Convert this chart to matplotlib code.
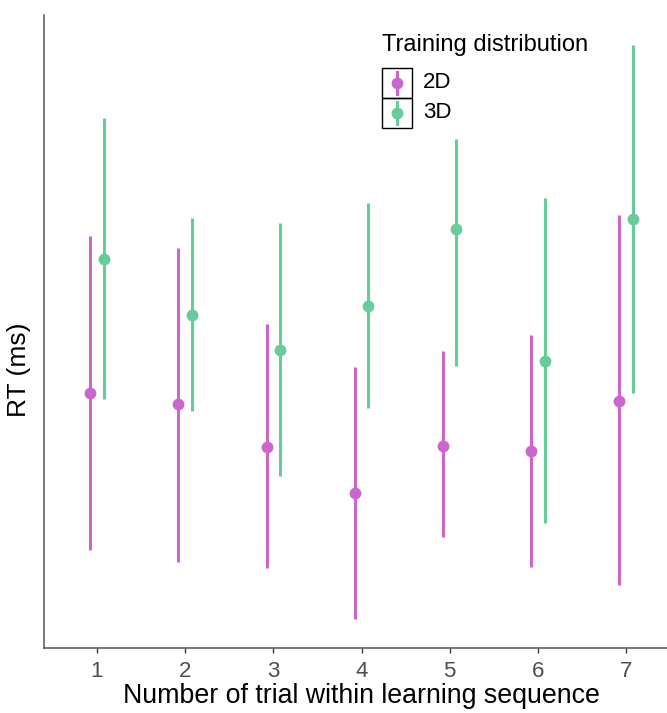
import matplotlib
matplotlib.use("Agg")
import matplotlib.pyplot as plt
from matplotlib.patches import Rectangle
from matplotlib.lines import Line2D

plt.rcParams['font.family'] = ['Liberation Sans', 'DejaVu Sans']

# data (arbitrary RT units, no y scale shown)
trials = [1, 2, 3, 4, 5, 6, 7]
groups = ["2D", "3D"]
colors = {"2D": "#CC66CC", "3D": "#66CC99"}

mean_2d = [255, 244, 201, 155, 202, 197, 247]
low_2d = [98, 86, 80, 29, 111, 81, 63]
high_2d = [412, 400, 324, 281, 297, 313, 433]

mean_3d = [389, 333, 298, 342, 419, 287, 429]
low_3d = [249, 237, 172, 240, 282, 125, 255]
high_3d = [530, 430, 425, 445, 509, 450, 603]

series = {
    "2D": (mean_2d, low_2d, high_2d),
    "3D": (mean_3d, low_3d, high_3d),
}
dodge = {"2D": -0.075, "3D": 0.075}

W, H = 667, 713
fig = plt.figure(figsize=(W / 100, H / 100), dpi=100)

# panel runs past the right edge (original was cropped)
left, right, top, bottom = 44, 679, 15, 648
ax = fig.add_axes([left / W, 1 - bottom / H, (right - left) / W, (bottom - top) / H])

for g in groups:
    m, lo, hi = series[g]
    xs = [t + dodge[g] for t in trials]
    ax.vlines(xs, lo, hi, color=colors[g], lw=2.2)
    ax.plot(xs, m, 'o', color=colors[g], ms=7.5, mec=colors[g])

ax.set_xlim(0.4, 7.6)
ax.set_ylim(0, 633)
ax.set_xticks(trials)
ax.set_xticklabels([str(t) for t in trials])
ax.set_yticks([])

for s in ["top", "right"]:
    ax.spines[s].set_visible(False)
for s in ["left", "bottom"]:
    ax.spines[s].set_color("#555555")
    ax.spines[s].set_linewidth(1.1)

ax.tick_params(axis='x', length=3.5, width=1.0, color="#333333",
               labelcolor="#4D4D4D", labelsize=16, pad=6)
ax.set_xlabel("Number of trial within learning sequence", fontsize=19.3, labelpad=0.5)
ax.set_ylabel("RT (ms)", fontsize=19)
ax.yaxis.set_label_coords(-0.02, 0.44)


# legend drawn by hand in pixel coords so each key gets its black box
def fx(px):
    return px / W


def fy(py):
    return 1 - py / H


fig.text(fx(382), fy(45), "Training distribution", fontsize=17, va='center', ha='left')
for i, g in enumerate(groups):
    y0 = 68 + 30 * i
    fig.patches.append(Rectangle((fx(382), fy(y0 + 30)), 30 / W, 30 / H,
                                 transform=fig.transFigure, fill=False,
                                 ec="black", lw=1.0))
    fig.lines.append(Line2D([fx(397), fx(397)], [fy(y0 + 4), fy(y0 + 26)],
                            transform=fig.transFigure, color=colors[g], lw=2.2))
    fig.lines.append(Line2D([fx(397)], [fy(y0 + 15)], transform=fig.transFigure,
                            marker='o', ms=7.5, color=colors[g], ls='none'))
    fig.text(fx(423), fy(y0 + 15), g, fontsize=16, va='center', ha='left')

fig.savefig("out.png", dpi=100)
